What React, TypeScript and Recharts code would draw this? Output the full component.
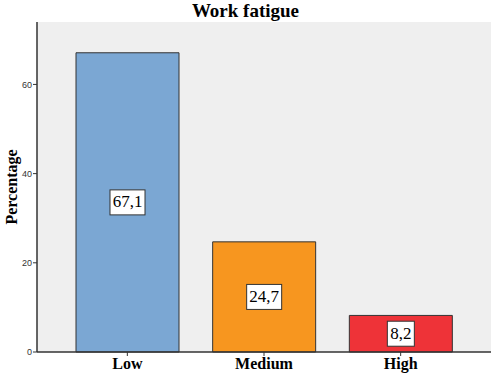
import React from 'react';
import { BarChart, Bar, XAxis, YAxis, CartesianGrid, LabelList, Cell } from 'recharts';

const categories = ['Low', 'Medium', 'High'];
const percentages = [67.1, 24.7, 8.2];
const barColors = ['#7ba7d3', '#f7961f', '#ee3338'];
const yTicks = [0, 20, 40, 60];

const data = categories.map((name, i) => ({ name, value: percentages[i] }));

const serif = "'Liberation Serif', 'DejaVu Serif', serif";

// boxed value label, placed at the middle of the bar
const BoxLabel = (props: any) => {
  const { x, y, width, height, value } = props;
  const text = String(value).replace('.', ',');
  const w = text.length * 8 + 3;
  const h = 25;
  const cx = x + width / 2;
  const cy = y + height / 2;
  return (
    <g>
      <rect x={cx - w / 2} y={cy - h / 2} width={w} height={h} fill="#ffffff" stroke="#333333" strokeWidth={1} />
      <text x={cx} y={cy + 1} textAnchor="middle" dominantBaseline="middle" fontFamily={serif} fontSize={17} fill="#000">
        {text}
      </text>
    </g>
  );
};

export default function App() {
  return (
    <div style={{ position: 'absolute', left: 0, top: 0, width: 501, height: 376, background: '#fff' }}>
      <div
        style={{
          position: 'absolute',
          left: -5,
          top: 0,
          width: 501,
          textAlign: 'center',
          fontFamily: serif,
          fontWeight: 'bold',
          fontSize: 19,
          lineHeight: '22px',
        }}
      >
        Work fatigue
      </div>
      <div
        style={{
          position: 'absolute',
          left: 12,
          top: 187,
          transform: 'translate(-50%, -50%) rotate(-90deg)',
          fontFamily: serif,
          fontWeight: 'bold',
          fontSize: 16,
          whiteSpace: 'nowrap',
        }}
      >
        Percentage
      </div>
      <BarChart
        width={501}
        height={376}
        data={data}
        margin={{ top: 22, right: 10, left: 0, bottom: 0 }}
        barCategoryGap={0}
      >
        <CartesianGrid fill="#efefef" horizontal={false} vertical={false} />
        <XAxis
          dataKey="name"
          height={24}
          padding={{ left: 22, right: 22 }}
          axisLine={{ stroke: '#333', strokeWidth: 1.5 }}
          tickLine={{ stroke: '#333' }}
          tickSize={4}
          tick={{ fill: '#000', fontFamily: serif, fontWeight: 'bold', fontSize: 16 }}
          tickMargin={2}
        />
        <XAxis xAxisId="top" orientation="top" dataKey="name" height={0} tick={false} tickLine={false} axisLine={{ stroke: '#888' }} />
        <YAxis
          width={37}
          domain={[0, 74]}
          ticks={yTicks}
          axisLine={{ stroke: '#333', strokeWidth: 1.5 }}
          tickLine={{ stroke: '#333' }}
          tickSize={4}
          tickMargin={1}
          tick={{ fill: '#333', fontFamily: "'Liberation Sans', Arial, sans-serif", fontSize: 9 }}
        />
        <YAxis yAxisId="right" orientation="right" width={0} domain={[0, 74]} tick={false} tickLine={false} axisLine={{ stroke: '#888' }} />
        <Bar dataKey="value" barSize={103} stroke="#333" strokeWidth={1} isAnimationActive={false}>
          {data.map((d, i) => (
            <Cell key={d.name} fill={barColors[i]} />
          ))}
          <LabelList dataKey="value" content={<BoxLabel />} />
        </Bar>
      </BarChart>
    </div>
  );
}
